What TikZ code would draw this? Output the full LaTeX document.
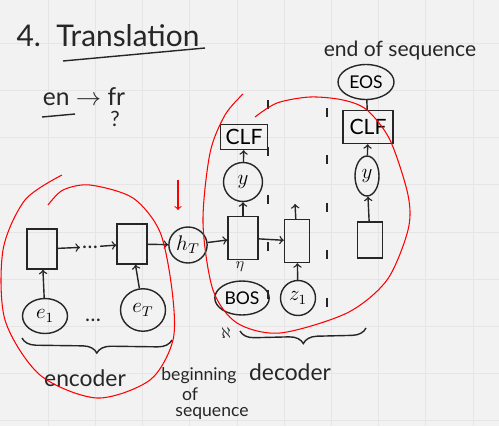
\documentclass[tikz,border=0pt]{standalone}
\usepackage{fontspec}
\setmainfont{Lato}
\usetikzlibrary{shapes.geometric,decorations.pathreplacing}

\tikzset{
  ink/.style={draw=black!85, thick},
  cell/.style={ink, minimum width=0.6cm, minimum height=0.8cm, inner sep=0pt},
  token/.style={ink, ellipse, inner sep=1pt, font=\large},
  clfbox/.style={ink, inner sep=2pt, font=\large},
  note/.style={text=black!85, inner sep=1pt, font=\fontsize{12}{14}\selectfont},
  marker/.style={red, line width=0.6pt},
  colsep/.style={black!85, thick, dash pattern=on 5pt off 22pt},
}

\begin{document}
\begin{tikzpicture}[x=0.02cm, y=-0.02cm]

    % Paper and grid
    \fill[black!5] (0,0) rectangle (499,426);
    \useasboundingbox (0,0) rectangle (499,426);
    \foreach \k in {1,...,10} {
        \draw[black!10] ({1+47.2*\k},0) -- ({1+47.2*\k},426);
    }
    \foreach \k in {1,...,9} {
        \draw[black!10] (0,{-4+47.2*\k}) -- (499,{-4+47.2*\k});
    }

    % Heading
    \node[note, font=\fontsize{17}{20}\selectfont] (title) at (108,36) {4.\ \ Translation};
    \draw[ink] (63,61) -- (205,48);
    \node[note, font=\fontsize{14}{16}\selectfont] (pair) at (84,97) {en $\rightarrow$ fr};
    \draw[ink] (42,117) -- (75,114);
    \node[note] (query) at (115,119) {?};

    % Encoder cells and inputs
    \node[cell] (enc1) at (42,249) {};
    \node[cell] (enc2) at (132,244) {};
    \node[note] (edots) at (90,247) {\dots};
    \node[token, minimum width=0.9cm, minimum height=0.7cm] (e1) at (45,316) {$e_1$};
    \node[token, minimum width=0.9cm, minimum height=0.85cm] (eT) at (143,310) {$e_T$};
    \node[note] (idots) at (93,320) {\dots};

    \draw[ink, ->] (e1) -- (enc1);
    \draw[ink, ->] (eT) -- (enc2);
    \draw[ink, ->] (enc1) -- (edots);
    \draw[ink, ->] (edots) -- (enc2);

    % Context vector
    \node[token, minimum size=0.72cm] (hT) at (188,245) {$h_T$};
    \draw[ink, ->] (enc2) -- (hT);
    \coordinate (redtop) at (178,180);
    \coordinate (redtip) at (178,210);
    \draw[marker, ->] (redtop) -- (redtip);

    % Decoder cells
    \node[cell, minimum height=0.86cm] (dec1) at (243,238) {};
    \node[cell, minimum width=0.5cm, minimum height=0.86cm] (dec2) at (297,241) {};
    \node[cell, minimum width=0.5cm, minimum height=0.72cm] (dec3) at (370,240) {};
    \draw[ink, ->] (hT) -- (dec1);
    \draw[ink, ->] (dec1) -- (dec2);

    % Decoder inputs
    \node[token, minimum width=0.8cm, minimum height=0.68cm, font=\normalsize] (bos) at (242,298) {BOS};
    \node[token, minimum size=0.7cm] (z1) at (298,298) {$z_1$};
    \node[note, font=\small] (hook) at (240,267) {$\eta$};
    \node[note, font=\small] (mark) at (226,333) {$\aleph$};
    \draw[ink, ->] (z1) -- (dec2);
    \coordinate (dec2up) at (295,204);
    \draw[ink, ->] (dec2) -- (dec2up);

    % Outputs and classifiers
    \node[token, minimum size=0.78cm] (y1) at (243,182) {$y$};
    \node[token, minimum width=0.48cm, minimum height=0.8cm] (y2) at (367,176) {$y$};
    \node[clfbox, minimum width=0.94cm, minimum height=0.5cm] (clf1) at (244,137) {CLF};
    \node[clfbox, minimum width=1cm, minimum height=0.66cm] (clf2) at (368,127) {CLF};
    \node[token, minimum width=1.12cm, minimum height=0.7cm, font=\normalsize] (eos) at (366,82) {EOS};
    \draw[ink, ->] (dec1) -- (y1);
    \draw[ink, ->] (y1) -- (clf1);
    \draw[ink, ->] (dec3) -- (y2);
    \draw[ink, ->] (y2) -- (clf2);
    \draw[ink] (clf2) -- (eos);
    \node[note] (eoslabel) at (400,51) {end of sequence};

    % Column separators
    \draw[colsep] (268,100) -- (268,332);
    \draw[colsep] (327,108) -- (327,332);

    % Braces and captions
    \draw[ink, decorate, decoration={brace, mirror, amplitude=8pt}] (22,338) -- (172,340);
    \draw[ink, decorate, decoration={brace, mirror, amplitude=8pt}] (240,331) -- (366,328);
    \node[note, font=\fontsize{13}{15}\selectfont] (enclabel) at (85,378) {encoder};
    \node[note, font=\fontsize{13}{15}\selectfont] (declabel) at (290,372) {decoder};
    \node[note, font=\fontsize{10}{12}\selectfont] (begin1) at (199,376) {beginning};
    \node[note, font=\fontsize{10}{12}\selectfont] (begin2) at (190,394) {of};
    \node[note, font=\fontsize{10}{12}\selectfont] (begin3) at (212,413) {sequence};

    % Red loops
    \draw[marker] plot[smooth] coordinates {(62,175) (25,200) (3,250) (5,320) (40,375) (97,398)
        (150,380) (173,340) (172,290) (160,232) (133,198) (90,185) (63,190) (48,205)};
    \draw[marker] plot[smooth] coordinates {(243,94) (225,115) (210,153) (203,223) (213,290)
        (237,323) (280,333) (347,313) (387,280) (408,230) (408,195) (390,140) (367,110)
        (343,100) (310,97) (277,103) (255,117)};

\end{tikzpicture}
\end{document}
